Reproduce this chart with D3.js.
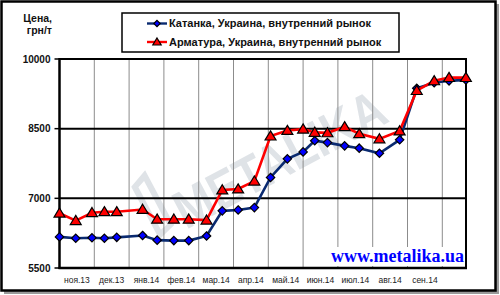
<!DOCTYPE html>
<html><head><meta charset="utf-8">
<script src="https://cdn.jsdelivr.net/npm/d3@7"></script>
<style>
html,body{margin:0;padding:0;background:#fff;}
svg{display:block;}
text{font-family:"Liberation Sans",Arial,sans-serif;}
</style></head>
<body>
<script>
// ---- data ----
const dates = ["2013-11-01","2013-11-15","2013-11-29","2013-12-10","2013-12-21","2014-01-13","2014-01-26","2014-02-09","2014-02-21","2014-03-08","2014-03-22","2014-04-05","2014-04-19","2014-05-03","2014-05-18","2014-06-01","2014-06-11","2014-06-22","2014-07-07","2014-07-20","2014-08-07","2014-08-25","2014-09-09","2014-09-24","2014-10-07","2014-10-22"];
const katanka  = [6170,6140,6150,6140,6160,6200,6100,6090,6090,6190,6730,6750,6800,7450,7850,8000,8240,8200,8130,8080,7970,8260,9370,9490,9530,9550];
const armatura = [6680,6520,6690,6710,6710,6760,6550,6550,6550,6530,7180,7200,7370,8340,8460,8490,8420,8410,8540,8390,8280,8450,9320,9530,9600,9600];
const seriesNames = ["Катанка, Украина, внутренний рынок","Арматура, Украина, внутренний рынок"];
const monthStarts = ["2013-11-01","2013-12-01","2014-01-01","2014-02-01","2014-03-01","2014-04-01","2014-05-01","2014-06-01","2014-07-01","2014-08-01","2014-09-01","2014-10-01"];
const monthLabels = ["ноя.13","дек.13","янв.14","фев.14","мар.14","апр.14","май.14","июн.14","июл.14","авг.14","сен.14"];
const yTicks = [5500,7000,8500,10000];
const yTitle = ["Цена,","грн/т"];
const siteText = "www.metalika.ua";
const watermark = "METALIKA";

(function(){
const W = 500, H = 295;
const parse = d3.timeParse("%Y-%m-%d");
const pL = 59.5, pR = 466, pT = 59, pB = 268;

const svg = d3.select("body").append("svg").attr("width", W).attr("height", H);

// outer frame with shadow
svg.append("rect").attr("x",4).attr("y",4).attr("width",495).attr("height",290).attr("fill","#9a9a9a");
svg.append("rect").attr("x",1.5).attr("y",1.5).attr("width",494).attr("height",289)
  .attr("fill","#fff").attr("stroke","#000").attr("stroke-width",2.5);

// x scale: month starts evenly spaced (polylinear time scale)
const step = (442.3 - pL) / 11;
const msDates = monthStarts.map(parse);
const endDate = parse(dates[dates.length-1]);
const endFrac = (endDate - msDates[11]) / (864e5 * 31);
const x = d3.scaleTime()
  .domain([...msDates, endDate])
  .range([...msDates.map((d,i)=> pL + i*step), pL + (11+endFrac)*step]);
const y = d3.scaleLinear().domain([5500,10000]).range([pB, pT]);

// watermark
const wm = svg.append("g").attr("transform","translate(186,230) rotate(-28)");
wm.append("path").attr("d","M-28,-4 L-28,-64 L-8,-72 L-8,-10 Z M-22,-12 L-22,-60 L-14,-63 L-14,-14 Z")
  .attr("fill","#dfe3e7").attr("fill-rule","evenodd");
wm.append("text").attr("x",0).attr("y",0).text(watermark)
  .attr("font-size",54).attr("font-weight","bold").attr("fill","#dfe3e7")
  .attr("textLength",232).attr("lengthAdjust","spacingAndGlyphs");

// vertical gridlines
svg.append("g").selectAll("line").data(msDates.slice(1)).join("line")
  .attr("x1",d=>x(d)).attr("x2",d=>x(d)).attr("y1",pT).attr("y2",pB)
  .attr("stroke","#8c8c8c").attr("stroke-width",1);

// website label with white background
const site = svg.append("g");
site.append("rect").attr("x",330).attr("y",247).attr("width",135).attr("height",19).attr("fill","#fff");
site.append("text").attr("x",464).attr("y",262).attr("text-anchor","end")
  .style("font-family","'Liberation Serif','Times New Roman',serif").attr("font-weight","bold")
  .attr("font-size",18).attr("fill","#0000ff").text(siteText);

// horizontal gridlines (black)
svg.append("g").selectAll("line").data(yTicks.slice(1)).join("line")
  .attr("x1",pL).attr("x2",pR).attr("y1",d=>y(d)).attr("y2",d=>y(d))
  .attr("stroke","#000").attr("stroke-width",2);

// axes frame
svg.append("line").attr("x1",pL).attr("x2",pL).attr("y1",pT-1).attr("y2",pB+1).attr("stroke","#000").attr("stroke-width",2.5);
svg.append("line").attr("x1",pL-1).attr("x2",pR+1).attr("y1",pB).attr("y2",pB).attr("stroke","#000").attr("stroke-width",2.5);
svg.append("line").attr("x1",pR).attr("x2",pR).attr("y1",pT-1).attr("y2",pB+1).attr("stroke","#000").attr("stroke-width",2);

// y ticks and labels
const ya = svg.append("g");
ya.selectAll("line").data(yTicks).join("line")
  .attr("x1",pL-5).attr("x2",pL).attr("y1",d=>y(d)).attr("y2",d=>y(d)).attr("stroke","#000").attr("stroke-width",1.5);
ya.selectAll("text").data(yTicks).join("text")
  .attr("x",50.5).attr("y",d=>y(d)).attr("dy","0.35em").attr("text-anchor","end")
  .attr("font-size",10).attr("font-weight","bold").attr("fill","#111").text(d=>d);

// y title
svg.append("g").selectAll("text").data(yTitle).join("text")
  .attr("x",52).attr("y",(d,i)=>22+i*12).attr("text-anchor","end")
  .attr("font-size",10.5).attr("font-weight","bold").attr("fill","#111").text(d=>d);

// month labels
svg.append("g").selectAll("text").data(monthLabels).join("text")
  .attr("x",(d,i)=> (x(msDates[i]) + x(msDates[i+1]))/2).attr("y",283)
  .attr("text-anchor","middle").attr("font-size",8.5).attr("fill","#222").text(d=>d);

// series
const td = dates.map(parse);
const line = d3.line().x(d=>x(d[0])).y(d=>y(d[1]));
const kData = td.map((d,i)=>[d,katanka[i]]);
const aData = td.map((d,i)=>[d,armatura[i]]);

function diamond(g, cx, cy, r){
  g.append("path").attr("d",`M${cx},${cy-r}L${cx+r},${cy}L${cx},${cy+r}L${cx-r},${cy}Z`)
    .attr("fill","#0000ff").attr("stroke","#000").attr("stroke-width",1.2);
}
function tri(g, cx, cy, r){
  g.append("path").attr("d",`M${cx},${cy-r}L${cx+r*1.05},${cy+r*0.75}L${cx-r*1.05},${cy+r*0.75}Z`)
    .attr("fill","#ff0000").attr("stroke","#000").attr("stroke-width",1.2);
}

const gk = svg.append("g");
gk.append("path").datum(kData).attr("d",line).attr("fill","none").attr("stroke","#0a2a70").attr("stroke-width",2.6);
kData.forEach(d=>diamond(gk, x(d[0]), y(d[1]), 4.2));

const ga = svg.append("g");
ga.append("path").datum(aData).attr("d",line).attr("fill","none").attr("stroke","#ff0000").attr("stroke-width",2.6);
aData.forEach(d=>tri(ga, x(d[0]), y(d[1]), 5.2));

// legend
const lg = svg.append("g");
lg.append("rect").attr("x",122).attr("y",13).attr("width",277).attr("height",39)
  .attr("fill","#fff").attr("stroke","#000").attr("stroke-width",1.5);
const legColors = ["#0a2a70","#ff0000"];
seriesNames.forEach((name,i)=>{
  const cy = 23.5 + i*18.5;
  lg.append("line").attr("x1",147).attr("x2",167).attr("y1",cy).attr("y2",cy)
    .attr("stroke",legColors[i]).attr("stroke-width",2.4);
  if(i===0) diamond(lg,157,cy,3.2); else tri(lg,157,cy,4);
  lg.append("text").attr("x",169).attr("y",cy).attr("dy","0.36em")
    .attr("font-size",11).attr("font-weight","bold").attr("fill","#111").text(name);
});
})();
</script>
</body></html>
